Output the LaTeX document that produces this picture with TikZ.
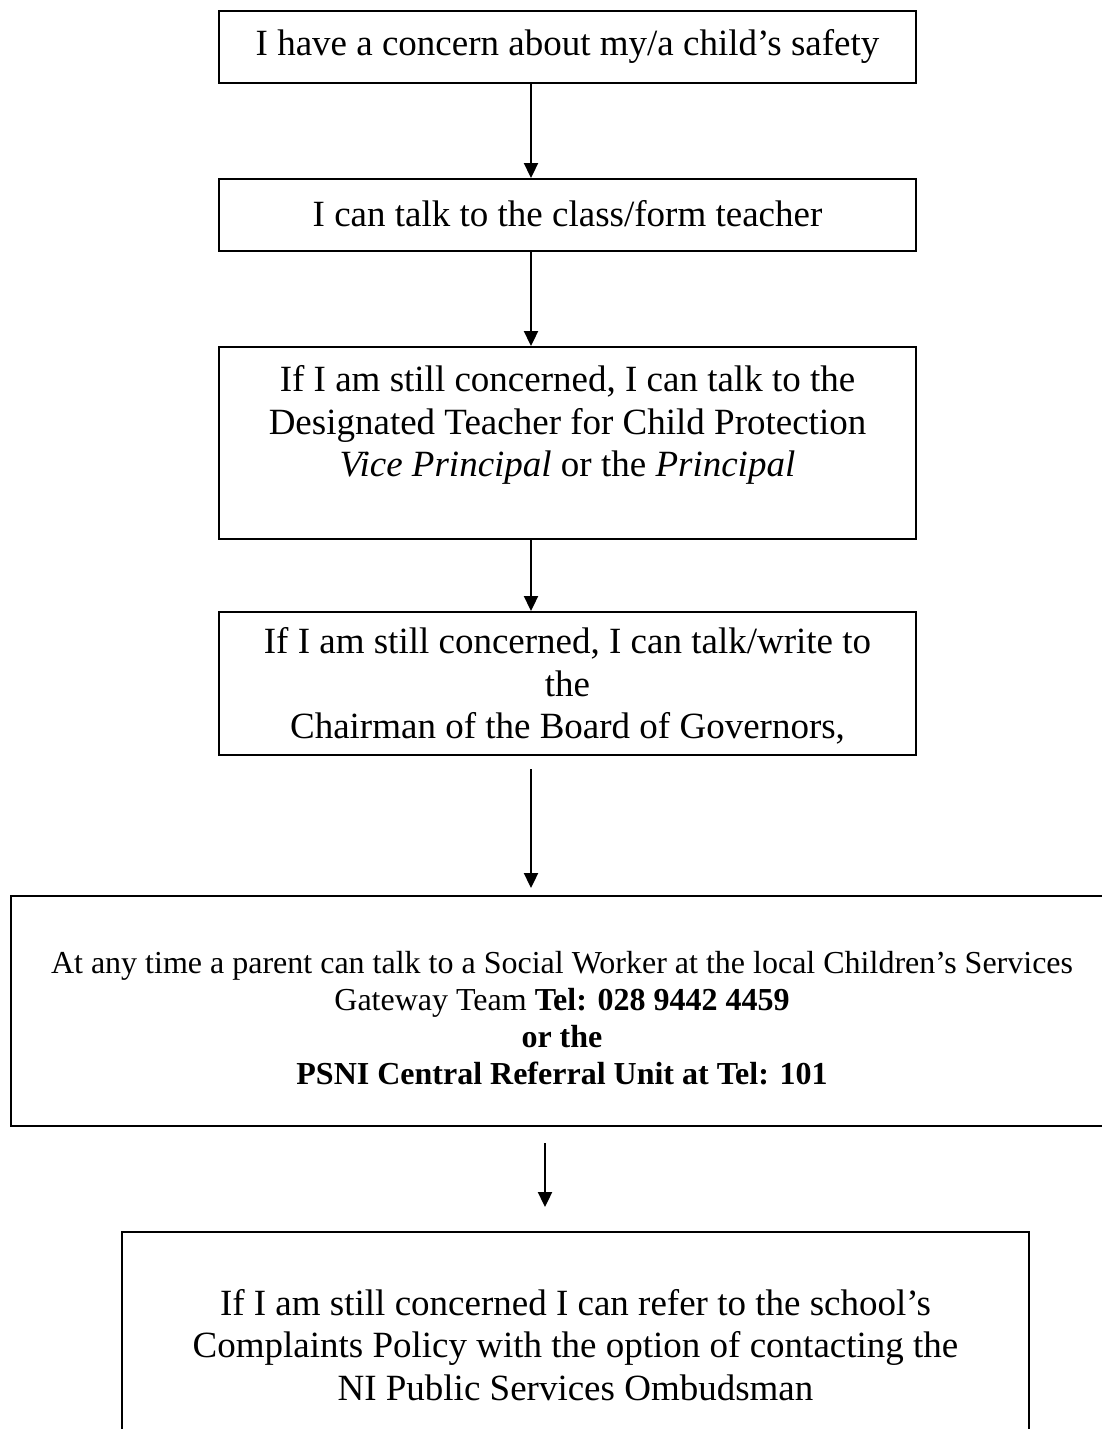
\documentclass[tikz,border=0pt]{standalone}
\usepackage{fontspec}
\setmainfont{Liberation Serif}
\usetikzlibrary{arrows.meta}
\begin{document}
\begin{tikzpicture}[x=1pt,y=-1pt,
  boxshape/.style={draw=black,line width=2pt,rectangle,inner sep=0pt},
  bigtext/.style={font=\fontsize{37}{42.5}\selectfont,align=center,inner sep=0pt},
  smalltext/.style={font=\fontsize{32}{36.8}\selectfont,align=center,inner sep=0pt},
  arr/.style={line width=2.3pt,-{Triangle[width=14pt,length=15pt]}}]
\clip (0,0) rectangle (1102,1429);
\fill[white] (0,0) rectangle (1102,1429);
% boxes
\node[boxshape,minimum width=697pt,minimum height=72pt] (b1) at (567.5,47) {};
\node[boxshape,minimum width=697pt,minimum height=72pt] (b2) at (567.5,215) {};
\node[boxshape,minimum width=697pt,minimum height=192pt] (b3) at (567.5,443) {};
\node[boxshape,minimum width=697pt,minimum height=143pt] (b4) at (567.5,683.5) {};
\node[boxshape,minimum width=1104pt,minimum height=230pt] (b5) at (563,1011) {};
\node[boxshape,minimum width=907pt,minimum height=226pt] (b6) at (575.5,1345) {};
% texts
\node[bigtext] (t1) at (567.5,46) {I have a concern about my/a child’s safety};
\node[bigtext] (t2) at (567.5,214) {I can talk to the class/form teacher};
\node[bigtext] (t3) at (567.5,425) {If I am still concerned, I can talk to the\\Designated Teacher for Child Protection\\\textit{Vice Principal} or the \textit{Principal}};
\node[bigtext] (t4) at (567.5,686) {If I am still concerned, I can talk/write to\\the\\Chairman of the Board of Governors,};
\node[smalltext] (t5) at (562,1018) {At any time a parent can talk to a Social Worker at the local Children’s Services\\Gateway Team \textbf{Tel: 028 9442 4459}\\\textbf{or the}\\\textbf{PSNI Central Referral Unit at Tel: 101}};
\node[bigtext] (t6) at (575.5,1345) {If I am still concerned I can refer to the school’s\\Complaints Policy with the option of contacting the\\NI Public Services Ombudsman};
% connectors
\coordinate (xa) at (531,0);
\coordinate (a4s) at (531,769);
\coordinate (a4e) at (531,888);
\coordinate (a5s) at (545,1143);
\coordinate (a5e) at (545,1207);
\draw[arr] (b1.south -| xa) -- (b2.north -| xa);
\draw[arr] (b2.south -| xa) -- (b3.north -| xa);
\draw[arr] (b3.south -| xa) -- (b4.north -| xa);
\draw[arr] (a4s) -- (a4e);
\draw[arr] (a5s) -- (a5e);
\end{tikzpicture}
\end{document}
